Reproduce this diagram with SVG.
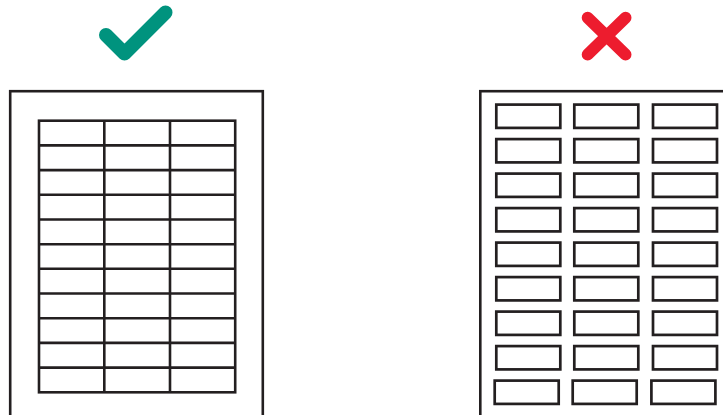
<svg xmlns="http://www.w3.org/2000/svg" width="723" height="415" viewBox="0 0 723 415">
<style>
.ln{fill:none;stroke:#231f20;stroke-width:2.6}
.lb{fill:#fff;stroke:#231f20;stroke-width:2.7}
</style>
<defs>
<rect id="lab" class="lb" width="64" height="23.3"/>
<g id="row">
<use href="#lab" x="496.3"/>
<use href="#lab" x="574.3"/>
<use href="#lab" x="653"/>
</g>
</defs>
<rect width="723" height="415" fill="#fff"/>
<g id="check">
<polyline points="106,35 124.5,53.5 165.5,12.5" fill="none" stroke="#00937e" stroke-width="14" stroke-linecap="round" stroke-linejoin="round"/>
</g>
<g id="cross">
<path d="M587.7,17.7 L625.5,54.5 M625.5,17.7 L587.7,54.5" fill="none" stroke="#ed1c2e" stroke-width="12" stroke-linecap="round"/>
</g>
<g id="good-page">
<rect class="ln" x="10.2" y="91.2" width="252.6" height="340"/>
<g id="table">
<rect class="ln" x="39" y="120.7" width="196.2" height="271.6"/>
<path class="ln" d="M104.3,120.7V392.3M170,120.7V392.3
M39,145.4H235.2M39,170.1H235.2M39,194.8H235.2M39,219.5H235.2M39,244.2H235.2M39,268.8H235.2M39,293.5H235.2M39,318.2H235.2M39,342.9H235.2M39,367.6H235.2"/>
</g>
</g>
<g id="bad-page">
<rect class="ln" x="480.3" y="91.2" width="300" height="340"/>
<g id="labels">
<use href="#row" y="104.6"/>
<use href="#row" y="139.1"/>
<use href="#row" y="173.6"/>
<use href="#row" y="208.1"/>
<use href="#row" y="242.6"/>
<use href="#row" y="277.1"/>
<use href="#row" y="311.6"/>
<use href="#row" y="346.1"/>
<use href="#row" x="-1.6" y="380.6"/>
</g>
</g>
</svg>
